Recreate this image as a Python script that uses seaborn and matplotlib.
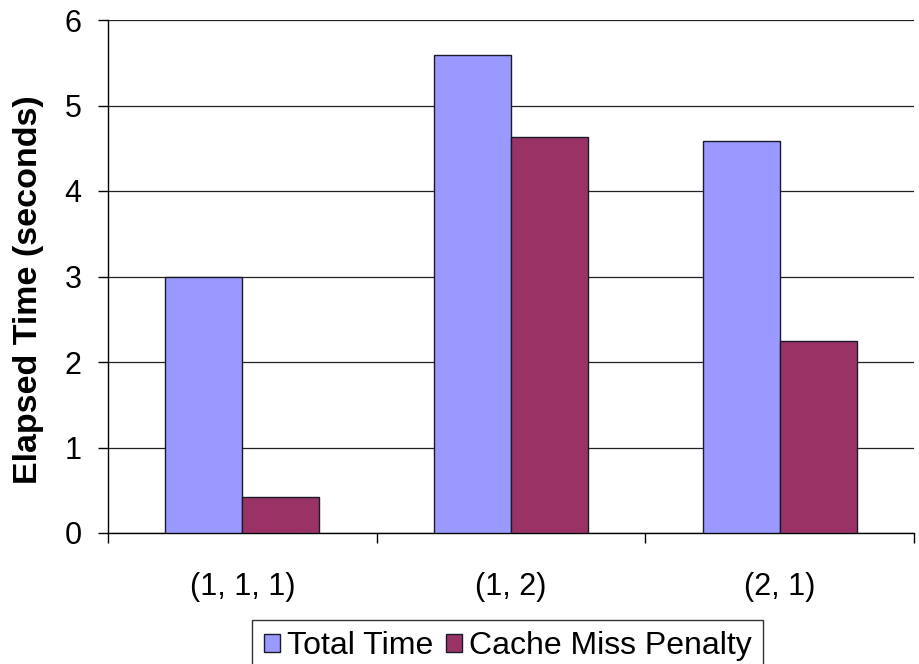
import matplotlib
matplotlib.use("Agg")
import matplotlib.pyplot as plt
import seaborn as sns
import pandas as pd
from matplotlib.ticker import FixedLocator
from matplotlib.patches import Patch

configs = ["(1, 1, 1)", "(1, 2)", "(2, 1)"]
total_time = [3.0, 5.59, 4.59]
cache_penalty = [0.42, 4.635, 2.25]
series = ["Total Time", "Cache Miss Penalty"]
colors = ["#9999FF", "#993366"]

df = pd.DataFrame({
    "config": configs * 2,
    "time": total_time + cache_penalty,
    "series": [series[0]] * 3 + [series[1]] * 3,
})

sns.set_style("white", rc={"text.color": "black", "axes.labelcolor": "black",
                           "xtick.color": "black", "ytick.color": "black"})
plt.rcParams["font.family"] = ["Liberation Sans", "DejaVu Sans"]

fig = plt.figure(figsize=(9.19, 6.64), dpi=100)
ax = fig.add_axes([108 / 919, 1 - 533 / 664, (914 - 108) / 919, (533 - 20) / 664])

sns.barplot(data=df, x="config", y="time", hue="series", order=configs,
            hue_order=series, palette=colors, width=0.572, saturation=1,
            edgecolor="#1a1a2a", linewidth=1.0, legend=False, ax=ax, zorder=3)

ax.set_xlim(-0.5, 2.5)
ax.set_ylim(0, 6)
ax.set_yticks(range(7))
ax.yaxis.grid(True, color="#222222", linewidth=0.9, zorder=0)
ax.set_axisbelow(True)

for s in ["top", "right"]:
    ax.spines[s].set_visible(False)
for s in ["left", "bottom"]:
    ax.spines[s].set_color("black")
    ax.spines[s].set_linewidth(1.0)

ax.xaxis.set_minor_locator(FixedLocator([-0.5, 0.5, 1.5, 2.5]))
ax.tick_params(axis="x", which="major", bottom=False, length=0, pad=28, labelsize=22)
ax.tick_params(axis="x", which="minor", bottom=True, length=7, width=1,
               color="black", direction="out")
ax.tick_params(axis="y", which="major", left=True, length=7, width=1, color="black",
               direction="out", pad=12, labelsize=22)

ax.set_xlabel("")
ax.set_ylabel("Elapsed Time (seconds)", fontsize=24.5, fontweight="bold")
ax.yaxis.set_label_coords(-0.079, 0.474)

handles = [Patch(facecolor=c, edgecolor="#1a1a2a", linewidth=1.0) for c in colors]
leg = fig.legend(handles, series, loc="upper center", bbox_to_anchor=(507.5 / 919, 1 - 620 / 664),
                 ncol=2, fontsize=23, frameon=True, fancybox=False, edgecolor="black",
                 handlelength=0.5, handleheight=0.5, handletextpad=0.22, columnspacing=0.4,
                 borderpad=0.35, borderaxespad=0)
leg.get_frame().set_linewidth(1.0)

fig.savefig("out.png", dpi=100)
